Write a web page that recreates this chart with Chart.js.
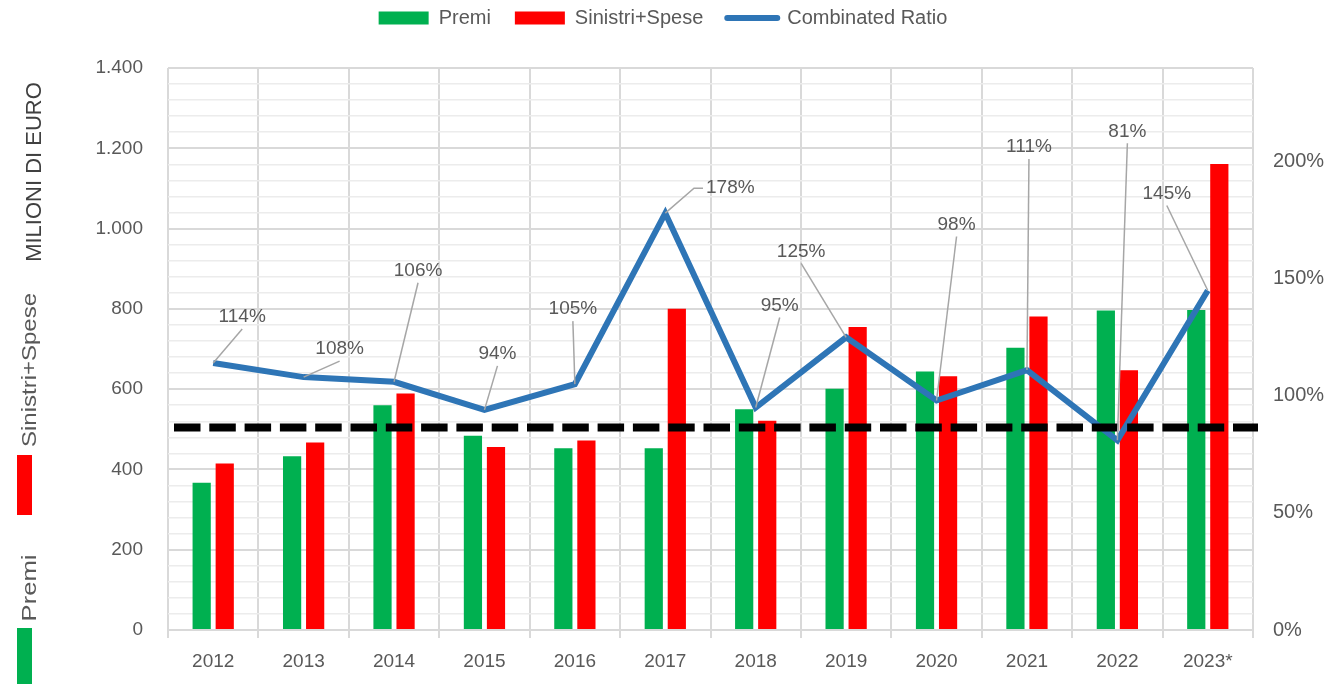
<!DOCTYPE html>
<html>
<head>
<meta charset="utf-8">
<script src="https://cdn.jsdelivr.net/npm/chart.js@4.4.1/dist/chart.umd.min.js"></script>
<style>
    html, body { margin: 0; padding: 0; background: #ffffff; }
    #wrap { width: 1326px; height: 684px; position: relative; }
</style>
</head>
<body>
<div id="wrap"><canvas id="ratioChart"></canvas></div>
<script>
// dati
const years = ['2012', '2013', '2014', '2015', '2016', '2017', '2018', '2019', '2020', '2021', '2022', '2023*'];
const premi = [367, 433, 560, 484, 453, 453, 550, 601, 644, 703, 796, 797];
const sinistriSpese = [415, 467, 589, 456, 472, 800, 521, 755, 632, 781, 647, 1161];
const combinedRatio = [1.14, 1.08, 1.06, 0.94, 1.05, 1.78, 0.95, 1.25, 0.98, 1.11, 0.81, 1.45];
const ratioTicks = [0, 0.5, 1, 1.5, 2];
const soglia = 0.865;

// spostamento delle etichette rispetto al punto (dx, dy)
const labelOffsets = [[29, -46], [36, -28], [24, -111], [13, -56], [-2, -75], [65, -25],
    [24, -102], [-45, -86], [20, -176], [2, -223], [10, -309], [-41, -97]];

const FONT = '"Liberation Sans", Arial, sans-serif';
const GREY = '#595959';

function formatIt(v) {
    return String(v).replace(/\B(?=(\d{3})+(?!\d))/g, '.');
}

// linea tratteggiata orizzontale
const sogliaPlugin = {
    id: 'soglia',
    afterDatasetsDraw(chart) {
        const ctx = chart.ctx;
        const area = chart.chartArea;
        const y = chart.scales.y1.getPixelForValue(soglia);
        ctx.save();
        ctx.strokeStyle = '#000000';
        ctx.lineWidth = 8;
        ctx.setLineDash([26.5, 8.8]);
        ctx.beginPath();
        ctx.moveTo(area.left + 6, y);
        ctx.lineTo(area.right + 5, y);
        ctx.stroke();
        ctx.restore();
    }
};

// etichette percentuali con linee di richiamo
const etichettePlugin = {
    id: 'etichette',
    afterDatasetsDraw(chart) {
        const ctx = chart.ctx;
        const meta = chart.getDatasetMeta(2);
        ctx.save();
        ctx.font = '19px ' + FONT;
        ctx.textAlign = 'center';
        ctx.textBaseline = 'middle';
        meta.data.forEach((pt, i) => {
            const dx = labelOffsets[i][0], dy = labelOffsets[i][1];
            const lx = pt.x + dx, ly = pt.y + dy;
            const text = Math.round(combinedRatio[i] * 100) + '%';
            const w = ctx.measureText(text).width;
            ctx.strokeStyle = '#a6a6a6';
            ctx.lineWidth = 1.5;
            ctx.beginPath();
            if (Math.abs(dy) < 35 && dx > 50) {
                ctx.moveTo(lx - w / 2 - 3, ly);
                ctx.lineTo(lx - w / 2 - 12, ly);
                ctx.lineTo(pt.x, pt.y);
            } else {
                ctx.moveTo(lx, ly + 12);
                ctx.lineTo(pt.x, pt.y);
            }
            ctx.stroke();
            ctx.fillStyle = GREY;
            ctx.fillText(text, lx, ly);
        });
        ctx.restore();
    }
};

// titolo asse e legenda verticale a sinistra
const latoSinistroPlugin = {
    id: 'latoSinistro',
    afterDraw(chart) {
        const ctx = chart.ctx;
        function vText(text, x, y, font, color, stretch) {
            ctx.save();
            ctx.translate(x, y);
            ctx.rotate(-Math.PI / 2);
            ctx.scale(stretch, 1);
            ctx.font = font;
            ctx.fillStyle = color;
            ctx.textAlign = 'center';
            ctx.textBaseline = 'middle';
            ctx.fillText(text, 0, 0);
            ctx.restore();
        }
        vText('MILIONI DI EURO', 35, 172, '22px ' + FONT, '#404040', 1);
        vText('Sinistri+Spese', 30, 370, '20px ' + FONT, GREY, 1.2);
        ctx.fillStyle = '#ff0000';
        ctx.fillRect(17, 455, 15, 60);
        vText('Premi', 30, 588, '20px ' + FONT, GREY, 1.28);
        ctx.fillStyle = '#00b050';
        ctx.fillRect(17, 628, 15, 60);
    }
};

const legendHeight = {
    id: 'legendHeight',
    beforeInit(chart) {
        const fit = chart.legend.fit;
        chart.legend.fit = function () {
            fit.bind(chart.legend)();
            this.height = 84;
        };
    }
};

const ctxChart = document.getElementById('ratioChart');
new Chart(ctxChart, {
    type: 'bar',
    data: {
        labels: years,
        datasets: [{
            label: 'Premi',
            data: premi,
            backgroundColor: '#00b050',
            yAxisID: 'y',
            order: 2
        }, {
            label: 'Sinistri+Spese',
            data: sinistriSpese,
            backgroundColor: '#ff0000',
            yAxisID: 'y',
            order: 2
        }, {
            type: 'line',
            label: 'Combinated Ratio',
            data: combinedRatio,
            borderColor: '#2e75b6',
            backgroundColor: '#2e75b6',
            borderWidth: 6,
            pointRadius: 0,
            tension: 0,
            fill: false,
            yAxisID: 'y1',
            order: 1
        }]
    },
    options: {
        responsive: true,
        maintainAspectRatio: false,
        animation: false,
        layout: { padding: { top: -16, left: 0, right: 0, bottom: 0 } },
        datasets: {
            bar: { categoryPercentage: 0.51, barPercentage: 0.79 }
        },
        plugins: {
            tooltip: { enabled: false },
            legend: {
                display: true,
                position: 'top',
                labels: {
                    usePointStyle: true,
                    pointStyleWidth: 50,
                    boxHeight: 13,
                    padding: 24,
                    color: GREY,
                    font: { family: FONT, size: 20 },
                    generateLabels(chart) {
                        return chart.data.datasets.map((ds, i) => ({
                            text: ds.label,
                            fillStyle: ds.backgroundColor,
                            strokeStyle: ds.type === 'line' ? ds.borderColor : ds.backgroundColor,
                            lineWidth: ds.type === 'line' ? 6 : 0,
                            lineCap: 'round',
                            pointStyle: ds.type === 'line' ? 'line' : 'rect',
                            fontColor: GREY,
                            hidden: false,
                            datasetIndex: i
                        }));
                    }
                }
            }
        },
        scales: {
            x: {
                offset: true,
                grid: {
                    offset: true,
                    color: '#d9d9d9',
                    lineWidth: 2,
                    tickLength: 8
                },
                border: { display: false },
                ticks: {
                    color: GREY,
                    padding: 12,
                    font: { family: FONT, size: 19 },
                    maxRotation: 0
                },
                afterFit(scale) { scale.height = 54; }
            },
            y: {
                position: 'left',
                min: 0,
                max: 1400,
                grid: {
                    drawTicks: false,
                    color: (c) => (c.tick && c.tick.value % 200 === 0) ? '#d9d9d9' : '#ececec',
                    lineWidth: (c) => (c.tick && c.tick.value % 200 === 0) ? 2 : 1.5
                },
                border: { display: false },
                ticks: {
                    stepSize: 40,
                    autoSkip: false,
                    padding: 25,
                    color: GREY,
                    font: { family: FONT, size: 19 },
                    callback: (v) => v % 200 === 0 ? formatIt(v) : ''
                },
                afterFit(scale) { scale.width = 168; }
            },
            y1: {
                position: 'right',
                min: 0,
                max: 2.4,
                grid: { drawOnChartArea: false, drawTicks: false },
                border: { display: false },
                ticks: {
                    padding: 20,
                    color: GREY,
                    font: { family: FONT, size: 20 },
                    callback: (v) => Math.round(v * 100) + '%'
                },
                afterBuildTicks(scale) {
                    scale.ticks = ratioTicks.map(v => ({ value: v }));
                },
                afterFit(scale) { scale.width = 73; }
            }
        }
    },
    plugins: [legendHeight, sogliaPlugin, etichettePlugin, latoSinistroPlugin]
});
</script>
</body>
</html>
